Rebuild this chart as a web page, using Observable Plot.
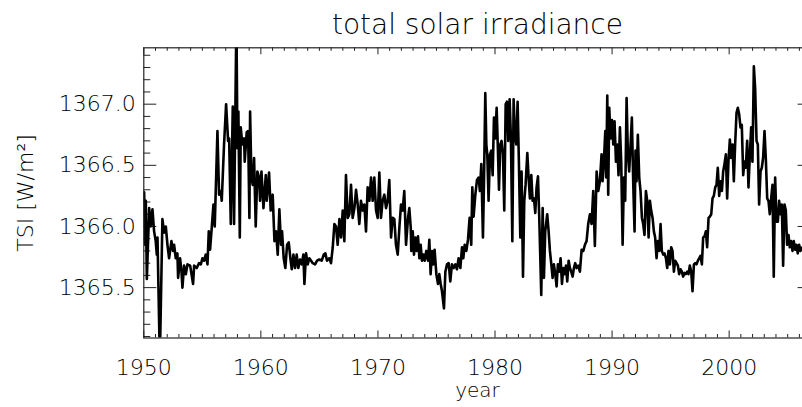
<!DOCTYPE html>
<html><head><meta charset="utf-8">
<script src="https://cdn.jsdelivr.net/npm/d3@7"></script>
<script src="https://cdn.jsdelivr.net/npm/@observablehq/plot@0.6"></script>
<style>
html,body{margin:0;padding:0;background:#fff;overflow:hidden}
svg text{font-weight:200}
</style></head><body><div id="chart"></div>
<script>
const title = "total solar irradiance";
const xLabel = "year";
const yLabel = "TSI [W/m²]";
const xDomain = [1950, 2007];
const yDomain = [1365.088, 1367.461];
const xTickLabels = [1950, 1960, 1970, 1980, 1990, 2000];
const yTickLabels = [1365.5, 1366.0, 1366.5, 1367.0];
const xMinorTicks = d3.range(1951, 2007, 1).filter(d => d % 10 !== 0);
const yMinorTicks = d3.range(13651, 13675, 1).map(d => d / 10).filter(d => Math.round(d * 10) % 5 !== 0);

const year = [
1950.03,1950.11,1950.17,1950.26,1950.46,1950.60,1950.74,1950.88,1951.02,1951.11,1951.17,1951.37,1951.59,1951.74,1951.88,
1952.02,1952.16,1952.36,1952.50,1952.59,1952.73,1952.87,1952.93,1953.10,1953.22,1953.30,1953.44,1953.59,1953.73,1953.96,
1954.21,1954.30,1954.52,1954.72,1954.87,1955.01,1955.15,1955.29,1955.44,1955.55,1955.66,1955.78,1955.95,1956.06,1956.29,
1956.43,1956.57,1956.66,1956.85,1957.03,1957.20,1957.29,1957.43,1957.60,1957.71,1957.91,1958.00,1958.08,1958.20,1958.28,
1958.42,1958.57,1958.62,1958.79,1958.91,1959.02,1959.08,1959.19,1959.31,1959.42,1959.56,1959.70,1959.85,1959.93,1960.05,
1960.22,1960.42,1960.50,1960.70,1960.84,1961.01,
1961.16,1961.30,1961.44,1961.58,1961.72,1961.81,1961.95,1962.09,1962.24,1962.38,1962.52,1962.64,1962.78,1962.92,1963.06,
1963.20,1963.35,1963.49,1963.63,1963.72,1963.86,1964.00,1964.14,1964.29,1964.43,1964.63,1964.80,1965.00,1965.20,1965.37,
1965.51,1965.65,1965.85,1965.99,1966.14,1966.28,1966.42,1966.56,1966.71,1966.85,1966.99,1967.13,1967.27,1967.42,1967.56,
1967.70,1967.84,1967.99,1968.13,1968.27,1968.41,1968.55,1968.70,1968.84,1968.98,1969.12,1969.27,1969.41,1969.55,1969.69,
1969.84,1969.98,1970.12,1970.26,1970.40,1970.55,1970.69,1970.83,1970.97,1971.12,1971.26,1971.40,1971.54,1971.69,1971.83,
1971.97,1972.11,1972.25,1972.40,
1972.57,1972.68,1972.80,1972.85,1972.97,1973.08,1973.19,1973.31,1973.42,1973.54,1973.65,1973.76,1973.88,1973.99,1974.13,
1974.28,1974.39,1974.50,1974.62,1974.73,1974.84,1974.99,1975.13,1975.24,1975.36,1975.47,1975.64,1975.76,1975.90,1976.04,
1976.18,1976.32,1976.47,1976.61,1976.75,1976.89,1977.04,1977.18,1977.29,1977.41,1977.55,1977.69,1977.83,1977.97,1978.06,
1978.17,1978.32,1978.46,1978.60,1978.71,1978.83,1978.97,1979.06,1979.17,1979.26,1979.34,1979.45,1979.57,1979.68,1979.80,
1979.91,1980.02,1980.14,1980.25,1980.34,1980.45,1980.56,1980.68,1980.79,1980.91,1981.02,1981.13,1981.25,1981.36,1981.48,
1981.59,1981.70,1981.82,1981.93,1982.04,1982.16,1982.27,1982.39,1982.50,1982.61,1982.76,1982.87,1982.98,1983.10,1983.21,
1983.33,1983.44,1983.55,1983.67,1983.78,
1983.95,1984.07,1984.18,1984.29,1984.46,1984.58,1984.69,1984.81,1984.92,1985.03,1985.15,1985.26,1985.37,1985.49,1985.60,
1985.72,1985.83,1985.94,1986.06,1986.17,1986.29,1986.40,1986.51,1986.63,1986.74,1986.85,1986.97,1987.11,1987.25,1987.40,
1987.54,1987.68,1987.82,1987.96,1988.11,1988.25,1988.39,1988.53,1988.68,1988.82,1988.96,1989.10,1989.19,1989.30,1989.42,
1989.50,1989.59,1989.67,1989.76,1989.87,1989.99,1990.10,1990.21,1990.33,1990.44,1990.55,1990.67,1990.78,1990.90,1991.01,
1991.12,1991.24,1991.35,1991.46,1991.58,1991.69,1991.81,1991.92,1992.00,1992.09,1992.20,1992.32,1992.43,1992.55,1992.66,
1992.77,1992.89,1993.00,1993.12,1993.23,1993.34,1993.46,1993.57,1993.68,1993.80,1993.91,1994.03,1994.14,1994.25,1994.37,
1994.48,1994.60,1994.71,
1994.82,1994.94,1995.05,1995.16,1995.28,1995.39,1995.51,1995.62,1995.73,1995.85,1995.96,1996.07,1996.19,1996.30,1996.42,
1996.53,1996.64,1996.76,1996.87,1996.99,1997.10,1997.21,1997.33,1997.44,1997.55,1997.67,1997.78,1997.90,1998.01,1998.12,
1998.24,1998.35,1998.47,1998.58,1998.69,1998.81,1998.92,1999.03,1999.15,1999.26,1999.38,1999.49,1999.60,1999.72,1999.83,
1999.94,2000.06,2000.17,2000.29,2000.40,2000.51,2000.63,2000.74,2000.85,2000.97,2001.08,2001.20,2001.31,2001.42,2001.54,
2001.65,2001.77,2001.88,2001.99,2002.11,2002.22,2002.34,2002.45,2002.56,2002.68,2002.79,2002.90,2003.02,2003.13,2003.25,
2003.36,2003.47,2003.59,2003.70,2003.81,2003.93,2004.04,2004.16,2004.27,2004.38,2004.50,2004.61,2004.73,2004.84,2004.95,
2005.07,2005.18,2005.29,2005.41,2005.52,2005.64,2005.75,2005.86,2005.98,2006.09,2006.26,2006.40
];

const tsi = [
1366.28,1365.85,1366.21,1365.57,1366.15,1366.00,1366.14,1365.96,1365.88,1365.77,1365.91,1364.90,1366.06,1365.95,1366.00,
1365.85,1365.74,1365.88,1365.80,1365.85,1365.74,1365.78,1365.58,1365.74,1365.63,1365.50,1365.68,1365.61,1365.69,1365.68,
1365.53,1365.68,1365.66,1365.70,1365.69,1365.74,1365.72,1365.77,1365.69,1365.96,1365.81,1365.96,1366.18,1366.00,1366.78,
1366.26,1366.29,1366.21,1366.66,1367.00,1366.70,1366.72,1366.02,1366.98,1366.02,1367.70,1366.64,1366.94,1365.91,1366.81,
1366.67,1366.72,1366.53,1366.77,1366.78,1366.07,1366.94,1366.40,1366.34,1366.56,1366.00,1366.45,1366.40,1366.21,1366.45,
1366.15,1366.42,1366.21,1366.44,1366.13,1366.26,
1365.88,1365.96,1365.77,1366.14,1365.85,1365.96,1365.74,1365.66,1365.85,1365.87,1365.74,1365.65,1365.77,1365.66,1365.77,
1365.66,1365.73,1365.69,1365.77,1365.53,1365.78,1365.69,1365.74,1365.72,1365.70,1365.69,1365.72,1365.73,1365.72,1365.77,
1365.78,1365.72,1365.74,1365.70,1365.83,1366.02,1366.00,1365.85,1366.06,1365.91,1366.13,1365.88,1366.42,1366.07,1366.10,
1366.34,1366.07,1366.15,1366.30,1366.18,1366.02,1366.21,1366.13,1366.18,1365.96,1366.32,1366.21,1366.40,1366.21,1366.40,
1366.13,1366.07,1366.44,1366.07,1366.21,1366.26,1366.15,1366.21,1366.38,1365.91,1366.07,1366.06,1365.85,1365.77,1365.99,
1366.18,1366.13,1366.29,1365.85,
1366.07,1366.15,1365.99,1365.80,1365.96,1365.77,1365.91,1365.80,1365.92,1365.74,1365.85,1365.72,1365.77,1365.72,1365.80,
1365.72,1365.89,1365.61,1365.80,1365.69,1365.81,1365.61,1365.53,1365.61,1365.53,1365.47,1365.33,1365.63,1365.69,1365.70,
1365.55,1365.69,1365.66,1365.69,1365.65,1365.74,1365.66,1365.83,1365.74,1365.85,1365.80,1365.89,1366.07,1365.85,1366.32,
1366.08,1366.26,1366.38,1366.40,1366.29,1366.51,1365.91,1366.37,1367.09,1366.67,1366.59,1366.21,1366.59,1366.62,1366.42,
1366.89,1366.72,1366.97,1366.62,1366.30,1366.67,1366.70,1366.59,1366.13,1367.00,1367.02,1366.70,1367.04,1366.72,1365.88,
1367.04,1366.75,1366.67,1367.02,1366.53,1365.91,1366.45,1365.59,1366.21,1366.34,1366.60,1366.40,1366.23,1366.42,1366.21,
1366.23,1366.11,1366.32,1366.41,1366.07,
1365.44,1366.15,1365.58,1365.96,1366.10,1365.96,1365.80,1365.69,1365.58,1365.69,1365.61,1365.51,1365.69,1365.63,1365.74,
1365.53,1365.66,1365.61,1365.68,1365.55,1365.72,1365.66,1365.63,1365.59,1365.66,1365.70,1365.66,1365.68,1365.63,1365.81,
1365.80,1365.85,1365.88,1366.02,1366.10,1366.02,1366.29,1365.84,1366.45,1366.29,1366.37,1366.59,1366.37,1366.53,1366.78,
1366.40,1367.07,1366.26,1366.97,1366.72,1366.87,1366.67,1366.86,1366.53,1366.67,1366.42,1366.81,1366.53,1365.85,1366.40,
1366.21,1367.05,1366.59,1366.45,1366.67,1366.89,1366.34,1365.96,1366.62,1366.37,1366.75,1366.40,1366.29,1366.07,1366.02,
1365.93,1366.29,1366.21,1365.91,1366.21,1366.13,1366.07,1365.96,1365.91,1365.74,1365.88,1365.80,1366.02,1365.80,1365.77,
1365.78,1365.74,1365.66,
1365.80,1365.69,1365.83,1365.80,1365.63,1365.72,1365.70,1365.68,1365.61,1365.65,1365.63,1365.59,1365.62,1365.61,1365.63,
1365.61,1365.68,1365.63,1365.47,1365.69,1365.70,1365.69,1365.72,1365.74,1365.76,1365.69,1365.91,1365.92,1365.96,1365.83,
1366.07,1366.08,1366.10,1366.23,1366.25,1366.32,1366.34,1366.48,1366.25,1366.37,1366.29,1366.45,1366.51,1366.59,1366.23,
1366.53,1366.71,1366.56,1366.67,1366.37,1366.67,1366.93,1366.97,1366.92,1366.81,1366.83,1366.42,1366.53,1366.48,1366.70,
1366.32,1366.59,1366.81,1366.53,1367.31,1367.13,1366.70,1366.67,1366.18,1366.45,1366.48,1366.56,1366.78,1366.56,1366.23,
1366.21,1366.10,1366.23,1366.34,1365.59,1366.40,1366.04,1366.04,1366.21,1366.10,1366.18,1365.68,1366.18,1366.13,1365.85,
1365.93,1365.83,1365.88,1365.80,1365.88,1365.81,1365.85,1365.78,1365.85,1365.80,1365.83,1365.82
];

const data = year.map((y, i) => ({year: y, tsi: tsi[i]}));

const W = 802, Ht = 407;
const mL = 143.3, mR = -8.6, mT = 47.3, mB = 69.5;
const innerW = W - mL - mR, innerH = Ht - mT - mB;
const axisColor = "#222";
const font = "'DejaVu Sans', sans-serif";

const chart = Plot.plot({
  width: W, height: Ht,
  marginLeft: mL, marginRight: mR, marginTop: mT, marginBottom: mB,
  style: {fontFamily: font, fontSize: "22px", color: "#000", background: "#fff", overflow: "hidden"},
  x: {domain: xDomain},
  y: {domain: yDomain},
  marks: [
    Plot.ruleX(xMinorTicks, {insetTop: innerH - 3.5, stroke: axisColor}),
    Plot.ruleX(xTickLabels, {insetTop: innerH - 7, stroke: axisColor}),
    Plot.ruleX(xMinorTicks, {insetBottom: innerH - 3.5, stroke: axisColor}),
    Plot.ruleX(xTickLabels, {insetBottom: innerH - 7, stroke: axisColor}),
    Plot.ruleY(yMinorTicks, {insetRight: innerW - 7, stroke: axisColor}),
    Plot.ruleY(yTickLabels, {insetRight: innerW - 13, stroke: axisColor}),
    Plot.ruleY(yMinorTicks, {insetLeft: innerW - 7, stroke: axisColor}),
    Plot.ruleY(yTickLabels, {insetLeft: innerW - 13, stroke: axisColor}),
    Plot.line(data, {x: "year", y: "tsi", stroke: "#000", strokeWidth: 2.6, strokeLinejoin: "round", clip: true}),
    Plot.frame({stroke: axisColor, strokeWidth: 1.2}),
    Plot.axisX({ticks: xTickLabels, tickSize: 0, tickPadding: 21, tickFormat: d => String(d), label: null, fontSize: 22}),
    Plot.axisY({ticks: yTickLabels, tickSize: 0, tickPadding: 8, tickFormat: d3.format(".1f"), label: null, fontSize: 22}),
    Plot.text([title], {text: d => d, frameAnchor: "top", lineAnchor: "bottom", textAnchor: "middle", dy: -14, fontSize: 28, letterSpacing: 1.5}),
    Plot.text([xLabel], {text: d => d, frameAnchor: "bottom", lineAnchor: "bottom", textAnchor: "middle", dy: 59, fontSize: 20}),
    Plot.text([yLabel], {text: d => d, frameAnchor: "left", lineAnchor: "middle", textAnchor: "middle", rotate: -90, dx: -118, fontSize: 22, letterSpacing: 0.8})
  ]
});
document.getElementById("chart").appendChild(chart);
</script>
</body></html>
